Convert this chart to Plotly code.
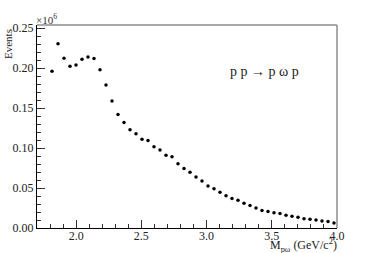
import numpy as np
import plotly.graph_objects as go

# Histogram: 50 bins on [1.7, 4.0]; filled bins 2..49
bin_lo = 1.7
bin_hi = 4.0
n_bins = 50
first_bin = 2
events_1e6 = [0.196, 0.2305, 0.2125, 0.2025, 0.204, 0.211, 0.214, 0.212, 0.198,
              0.179, 0.159, 0.142, 0.132, 0.123, 0.118, 0.111, 0.1096, 0.1017,
              0.0975, 0.091, 0.089, 0.0805, 0.0746, 0.0696, 0.0638, 0.0588,
              0.0525, 0.049, 0.0446, 0.0405, 0.037, 0.0346, 0.031, 0.028, 0.025,
              0.022, 0.0205, 0.019, 0.018, 0.016, 0.0146, 0.0134, 0.0117, 0.011,
              0.010, 0.0088, 0.008, 0.0063]

width = (bin_hi - bin_lo) / n_bins
centers = [bin_lo + (first_bin + i + 0.5) * width for i in range(len(events_1e6))]

FONT = "Liberation Serif"

fig = go.Figure()
fig.add_trace(go.Scatter(x=centers, y=events_1e6, mode="markers",
                         marker=dict(color="black", size=3.5),
                         showlegend=False, hoverinfo="skip"))

fig.update_layout(
    width=374, height=253,
    margin=dict(l=37, r=37, t=25, b=25, autoexpand=False),
    paper_bgcolor="white", plot_bgcolor="white",
    font=dict(family=FONT, size=12, color="#222"),
    xaxis=dict(range=[bin_lo, bin_hi], tick0=2.0, dtick=0.5, tickformat=".1f",
               ticks="inside", ticklen=8, tickcolor="#333", tickwidth=1,
               showgrid=False, zeroline=False, showline=True, linecolor="black",
               linewidth=1.2, mirror=False, automargin=False, ticklabelstandoff=-4,
               minor=dict(dtick=0.1, ticks="inside", ticklen=4, tickcolor="#333"),
               tickfont=dict(family=FONT, size=12, color="#222")),
    yaxis=dict(range=[0, 0.254], tick0=0, dtick=0.05, tickformat=".2f",
               ticks="inside", ticklen=8, tickcolor="#333", tickwidth=1,
               showgrid=False, zeroline=False, showline=True, linecolor="black",
               linewidth=1.2, mirror=False, automargin=False,
               minor=dict(dtick=0.01, ticks="inside", ticklen=4, tickcolor="#333"),
               tickfont=dict(family=FONT, size=12, color="#222")),
)

# grey top and right frame
fig.add_shape(type="line", xref="paper", yref="paper", x0=0, x1=1, y0=1, y1=1,
              line=dict(color="#8c8c8c", width=1.5))
fig.add_shape(type="line", xref="paper", yref="paper", x0=1, x1=1, y0=0, y1=1,
              line=dict(color="#8c8c8c", width=1.5))

fig.add_annotation(text="×10<sup>6</sup>", xref="paper", yref="paper", x=0, y=1,
                   xanchor="left", yanchor="bottom", showarrow=False,
                   font=dict(family=FONT, size=11, color="#333"), xshift=-3, yshift=-3)
fig.add_annotation(text="Events", xref="paper", yref="paper", x=0, y=1,
                   xanchor="center", yanchor="top", textangle=-90, showarrow=False,
                   font=dict(family=FONT, size=11, color="#222"), xshift=-29, yshift=-2)
fig.add_annotation(text="M<sub>pω</sub> (GeV/c<sup>2</sup>)", xref="paper", yref="paper",
                   x=1, y=0, xanchor="right", yanchor="top", showarrow=False,
                   font=dict(family=FONT, size=12, color="#222"), yshift=-7, xshift=2)
fig.add_annotation(text="p p\u00a0→ p\u00a0ω p", xref="paper", yref="paper",
                   x=0.637, y=0.77, xanchor="left", yanchor="middle", showarrow=False,
                   font=dict(family=FONT, size=14, color="#222"))

fig.write_html("out.html", config={"displayModeBar": False},
               post_script="document.body.style.margin='0px';document.body.style.overflow='hidden';")
